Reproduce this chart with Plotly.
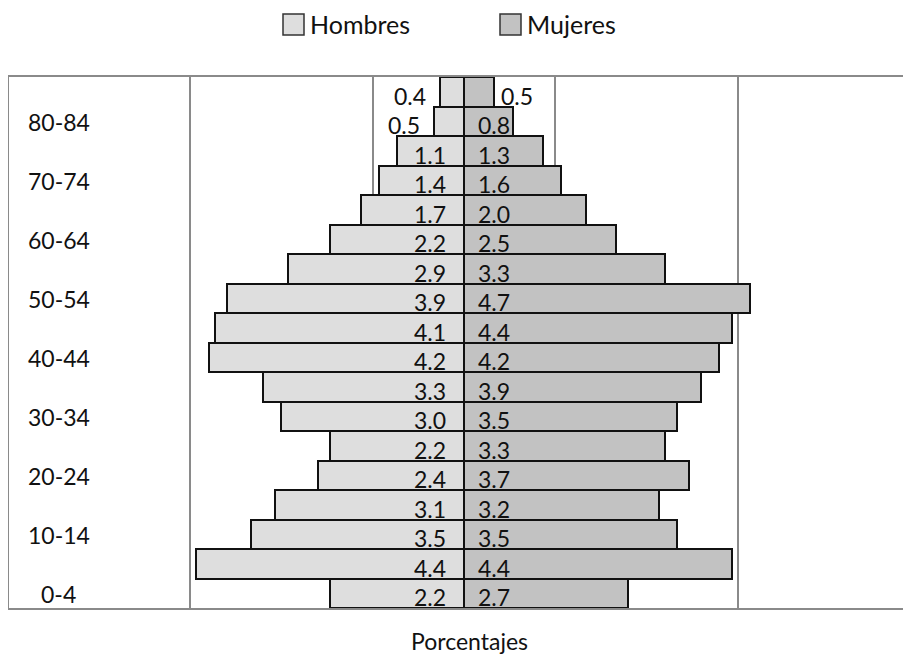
import plotly.graph_objects as go

# ---- data (bottom to top) ----
age_groups = ["0-4", "5-9", "10-14", "15-19", "20-24", "25-29", "30-34", "35-39",
              "40-44", "45-49", "50-54", "55-59", "60-64", "65-69", "70-74",
              "75-79", "80-84", "85+"]
hombres = [2.2, 4.4, 3.5, 3.1, 2.4, 2.2, 3.0, 3.3, 4.2, 4.1, 3.9, 2.9, 2.2, 1.7, 1.4,
           1.1, 0.5, 0.4]
mujeres = [2.7, 4.4, 3.5, 3.2, 3.7, 3.3, 3.5, 3.9, 4.2, 4.4, 4.7, 3.3, 2.5, 2.0, 1.6,
           1.3, 0.8, 0.5]
shown_age_labels = ["0-4", "10-14", "20-24", "30-34", "40-44", "50-54", "60-64",
                    "70-74", "80-84"]
series_names = ["Hombres", "Mujeres"]
x_title = "Porcentajes"

# ---- style ----
FONT = "Lato"
C_H = "#dedede"
C_M = "#c2c2c2"
GRID = "#8a8a8a"
# page body has an 8px margin, so the figure is sized to fill the rest of the window
W, H = 903, 647
ML, MR, MT, MB = 1, 0, 69, 47
XR = [-7.48, 7.35]
SMALL = 0.55  # bars narrower than this get their label outside

fig = go.Figure()
fig.add_trace(go.Bar(
    y=age_groups, x=[-v for v in hombres], orientation="h", name=series_names[0],
    marker=dict(color=C_H, line=dict(color="#111111", width=2)),
    customdata=hombres, hovertemplate="%{y}: %{customdata}<extra>Hombres</extra>",
    showlegend=False))
fig.add_trace(go.Bar(
    y=age_groups, x=mujeres, orientation="h", name=series_names[1],
    marker=dict(color=C_M, line=dict(color="#111111", width=2)),
    hovertemplate="%{y}: %{x}<extra>Mujeres</extra>", showlegend=False))

annotations = []
# data labels
for ag, h, m in zip(age_groups, hombres, mujeres):
    if h < SMALL:
        annotations.append(dict(x=-h, y=ag, text=f"{h:.1f}", xanchor="right",
                                xshift=-12, yshift=-4, showarrow=False))
    else:
        annotations.append(dict(x=0, y=ag, text=f"{h:.1f}", xanchor="right",
                                xshift=-16, yshift=-4, showarrow=False))
    if m < SMALL:
        annotations.append(dict(x=m, y=ag, text=f"{m:.1f}", xanchor="left",
                                xshift=5, yshift=-4, showarrow=False))
    else:
        annotations.append(dict(x=0, y=ag, text=f"{m:.1f}", xanchor="left",
                                xshift=12, yshift=-4, showarrow=False))
for a in annotations:
    a["font"] = dict(family=FONT, size=23, color="#111111")

# category labels inside the plot frame
for lab in shown_age_labels:
    annotations.append(dict(x=-6.66, y=lab, text=lab, xanchor="center", yshift=-1,
                            showarrow=False,
                            font=dict(family=FONT, size=23, color="#111111")))

pw = W - ML - MR
ph = H - MT - MB


def px_x(p):
    return (p - ML) / pw


def px_y(p):
    return (H - MB - p) / ph


# axis title
annotations.append(dict(xref="paper", yref="paper", x=px_x(461), y=px_y(633),
                        yanchor="middle", text=x_title, showarrow=False,
                        font=dict(family=FONT, size=23, color="#111111")))

# custom legend (larger swatches, like the reference)
shapes = []
legend_items = [(series_names[0], C_H, 275), (series_names[1], C_M, 492)]
for name, col, x0 in legend_items:
    shapes.append(dict(type="rect", xref="paper", yref="paper",
                       x0=px_x(x0), x1=px_x(x0 + 21), y0=px_y(27), y1=px_y(6),
                       fillcolor=col, line=dict(color="#333333", width=1.5)))
    annotations.append(dict(xref="paper", yref="paper", x=px_x(x0 + 25), y=px_y(16),
                            xanchor="left", yanchor="middle", text=name,
                            showarrow=False,
                            font=dict(family=FONT, size=25, color="#111111")))

fig.update_layout(
    width=W, height=H,
    margin=dict(l=ML, r=MR, t=MT, b=MB),
    paper_bgcolor="white", plot_bgcolor="white",
    barmode="relative", bargap=0,
    annotations=annotations, shapes=shapes,
    font=dict(family=FONT, size=22, color="#111111"),
)
fig.update_xaxes(range=XR, tickvals=[-4.5, -1.5, 1.5, 4.5], showticklabels=False,
                 showgrid=True, gridcolor=GRID, gridwidth=1.5, zeroline=False,
                 showline=True, mirror=True, linecolor=GRID, linewidth=2, ticks="")
fig.update_yaxes(type="category", categoryorder="array", categoryarray=age_groups,
                 range=[-0.5, len(age_groups) - 0.5], showticklabels=False,
                 showgrid=False, zeroline=False, showline=True, linecolor=GRID,
                 linewidth=2, ticks="")

fig.write_html("out.html")
